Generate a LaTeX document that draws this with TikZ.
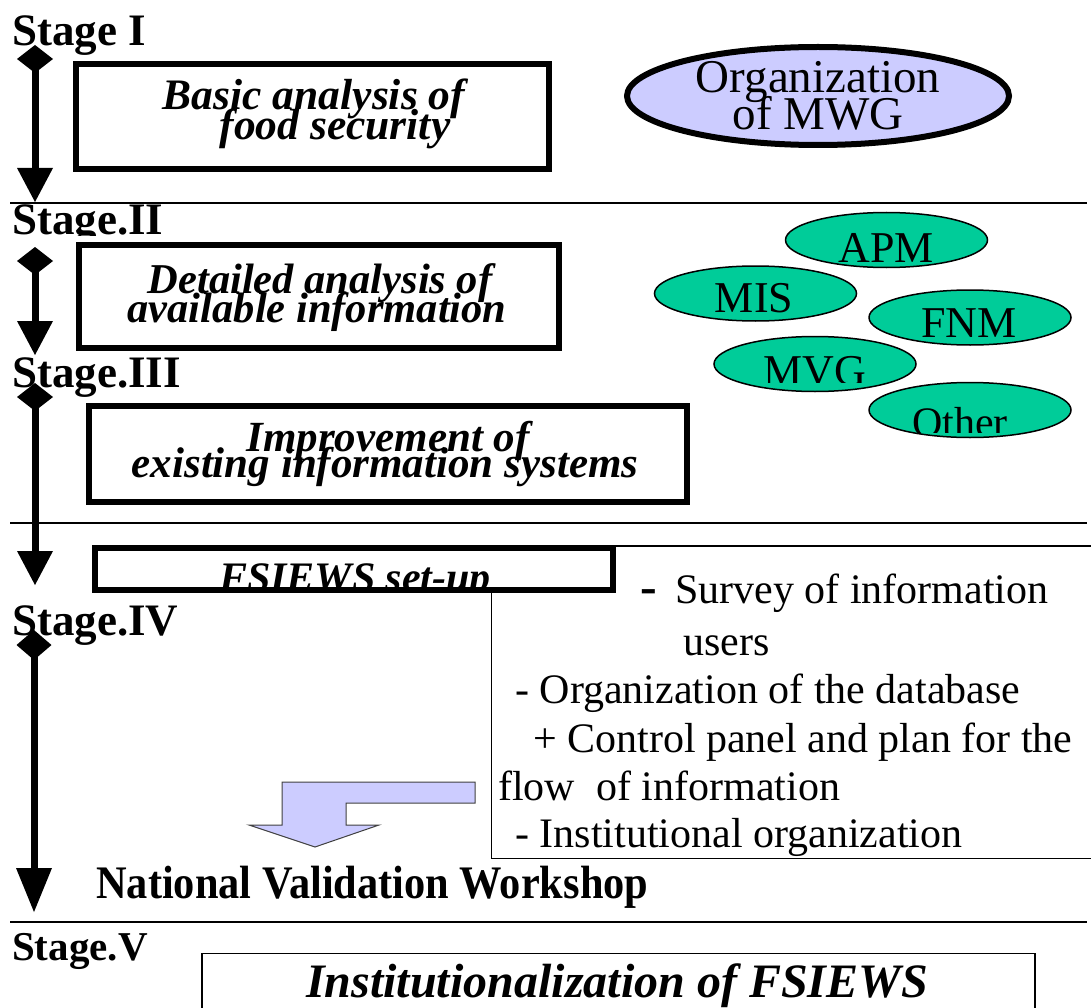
\documentclass[tikz,border=0pt]{standalone}
\usepackage{fontspec}
\setmainfont{Liberation Serif}
\usetikzlibrary{arrows.meta,shapes.geometric}

\definecolor{lav}{RGB}{204,204,255}
\definecolor{mint}{RGB}{0,204,153}
\newcommand\pxfont[1]{\fontsize{#1}{#1}\selectfont}

\tikzset{
  stagelbl/.style={anchor=base west, inner sep=0pt, font=\bfseries\pxfont{45}},
  boxtxt/.style={anchor=base, inner sep=0pt, font=\bfseries\itshape\pxfont{43}},
  listtxt/.style={anchor=base west, inner sep=0pt, font=\pxfont{42}},
  tagtxt/.style={anchor=base, inner sep=0pt, font=\pxfont{44}},
  thickbox/.style={draw, line width=6pt, rectangle, inner sep=0pt},
  thinbox/.style={draw, line width=1.5pt, rectangle, inner sep=0pt},
  tag/.style={draw, ellipse, fill=mint, line width=1.5pt, inner sep=0pt,
    minimum width=202pt, minimum height=55pt},
  rule/.style={line width=2pt},
  timeline/.style={line width=7pt,
    {Diamond[length=28pt,width=36pt,line width=0pt]}-{Triangle[length=34pt,width=36pt,line width=0pt]}},
}

\begin{document}
\begin{tikzpicture}[x=1pt,y=-1pt]
\useasboundingbox (0,0) rectangle (1091,1008);

% stage separators
\coordinate (r1a) at (10,203);  \coordinate (r1b) at (1087,203);
\coordinate (r2a) at (10,523);  \coordinate (r2b) at (1087,523);
\coordinate (r3a) at (10,922);  \coordinate (r3b) at (1087,922);
\draw[rule] (r1a) -- (r1b);
\draw[rule] (r2a) -- (r2b);
\draw[rule] (r3a) -- (r3b);

% stage titles
\node[stagelbl] (st1) at (12,46) {Stage I};
\begin{scope}
  \clip (0,180) rectangle (300,236);
  \node[stagelbl] (st2) at (12,235) {Stage.II};
\end{scope}
\node[stagelbl] (st3) at (12,387) {Stage.III};
\node[stagelbl] (st4) at (12,635) {Stage.IV};
\node[stagelbl, font=\bfseries\pxfont{41}] (st5) at (12,960) {Stage.V};

% stage I
\node[thickbox, minimum width=473pt, minimum height=105pt] (b1) at (312.5,116.5) {};
\node[boxtxt, font=\bfseries\itshape\pxfont{43.5}] (b1a) at (314,110) {Basic analysis of};
\node[boxtxt, font=\bfseries\itshape\pxfont{43.5}] (b1b) at (335,140) {food security};

\node[draw, ellipse, fill=lav, line width=6pt, inner sep=0pt,
      minimum width=382pt, minimum height=98pt] (mwg) at (818,96) {};
\node[tagtxt, font=\pxfont{47}] (mwga) at (818,93) {Organization};
\node[tagtxt, font=\pxfont{47}] (mwgb) at (818,130) {of MWG};

% stage II
\node[thickbox, minimum width=480pt, minimum height=103pt] (b2) at (319,296.5) {};
\node[boxtxt, font=\bfseries\itshape\pxfont{42.5}] (b2a) at (320,293) {Detailed analysis of};
\node[boxtxt, font=\bfseries\itshape\pxfont{42.5}] (b2b) at (317,322) {available information};

% existing systems
\node[tag] (apm) at (886.5,240) {};
\node[tagtxt] (apmt) at (886,262) {APM};
\node[tag] (mis) at (755.5,293.5) {};
\node[tagtxt] (mist) at (754,312) {MIS};
\node[tag] (fnm) at (970,317.5) {};
\node[tagtxt] (fnmt) at (969,337) {FNM};
\node[tag] (mvg) at (815,364) {};
\begin{scope}
  \clip (700,330) rectangle (930,382);
  \node[tagtxt] (mvgt) at (815,385) {MVG};
\end{scope}
\node[tag] (oth) at (970,410) {};
\begin{scope}
  \clip (860,380) rectangle (1080,432);
  \node[tagtxt, font=\pxfont{42}] (otht) at (960,436) {Other};
\end{scope}

% stage III
\node[thickbox, minimum width=598pt, minimum height=96pt] (b3) at (388,454) {};
\node[boxtxt] (b3a) at (388,451) {Improvement of};
\node[boxtxt] (b3b) at (385,477) {existing information systems};

% FSIEWS set-up and its tasks
\node[thinbox, minimum width=608.5pt, minimum height=312.5pt] (tasks) at (795.75,702.25) {};
\node[thickbox, fill=white, minimum width=518pt, minimum height=42pt] (fs) at (354,569) {};
\begin{scope}
  \clip (98,550) rectangle (610,588);
  \node[boxtxt, font=\bfseries\itshape\pxfont{42}] (fst) at (355,591) {FSIEWS set-up};
\end{scope}

\node[listtxt, font=\bfseries\pxfont{50}] (t1d) at (640,603) {-};
\node[listtxt] (t1) at (675,603) {Survey of information};
\node[listtxt] (t1b) at (683,655) {users};
\node[listtxt] (t2) at (515,703) {- Organization of the database};
\node[listtxt] (t3) at (533,752) {+ Control panel and plan for the};
\node[listtxt] (t3b) at (498,800) {flow\ \ of information};
\node[listtxt] (t4) at (515,847) {- Institutional organization};

% block arrow towards the workshop
\draw[fill=lav, draw=black!75, line width=1pt]
  (475,782) -- (282,782) -- (282,825) -- (249,825) -- (315,847)
  -- (379,825) -- (346,825) -- (346,803) -- (475,803) -- cycle;

\node[anchor=base west, inner sep=0pt, font=\bfseries\pxfont{42.4}] (nvw) at (96,898)
  {\scalebox{1}[1.1]{National Validation Workshop}};

% stage V
\node[thinbox, minimum width=833pt, minimum height=66.5pt] (b5) at (618.5,986.75) {};
\node[boxtxt, font=\bfseries\itshape\pxfont{48}] (b5t) at (617,997) {Institutionalization of FSIEWS};

% timeline arrows
\coordinate (a1s) at (35,45);  \coordinate (a1e) at (35,202);
\coordinate (a2s) at (35,247); \coordinate (a2e) at (35,355);
\coordinate (a3s) at (35,383); \coordinate (a3e) at (35,585);
\coordinate (a4s) at (34,630); \coordinate (a4e) at (34,912);
\draw[timeline] (a1s) -- (a1e);
\draw[timeline] (a2s) -- (a2e);
\draw[timeline] (a3s) -- (a3e);
\draw[line width=7pt,
  {Diamond[length=30pt,width=35pt,line width=0pt]}-{Triangle[length=44pt,width=36pt,line width=0pt]}]
  (a4s) -- (a4e);
\end{tikzpicture}
\end{document}
